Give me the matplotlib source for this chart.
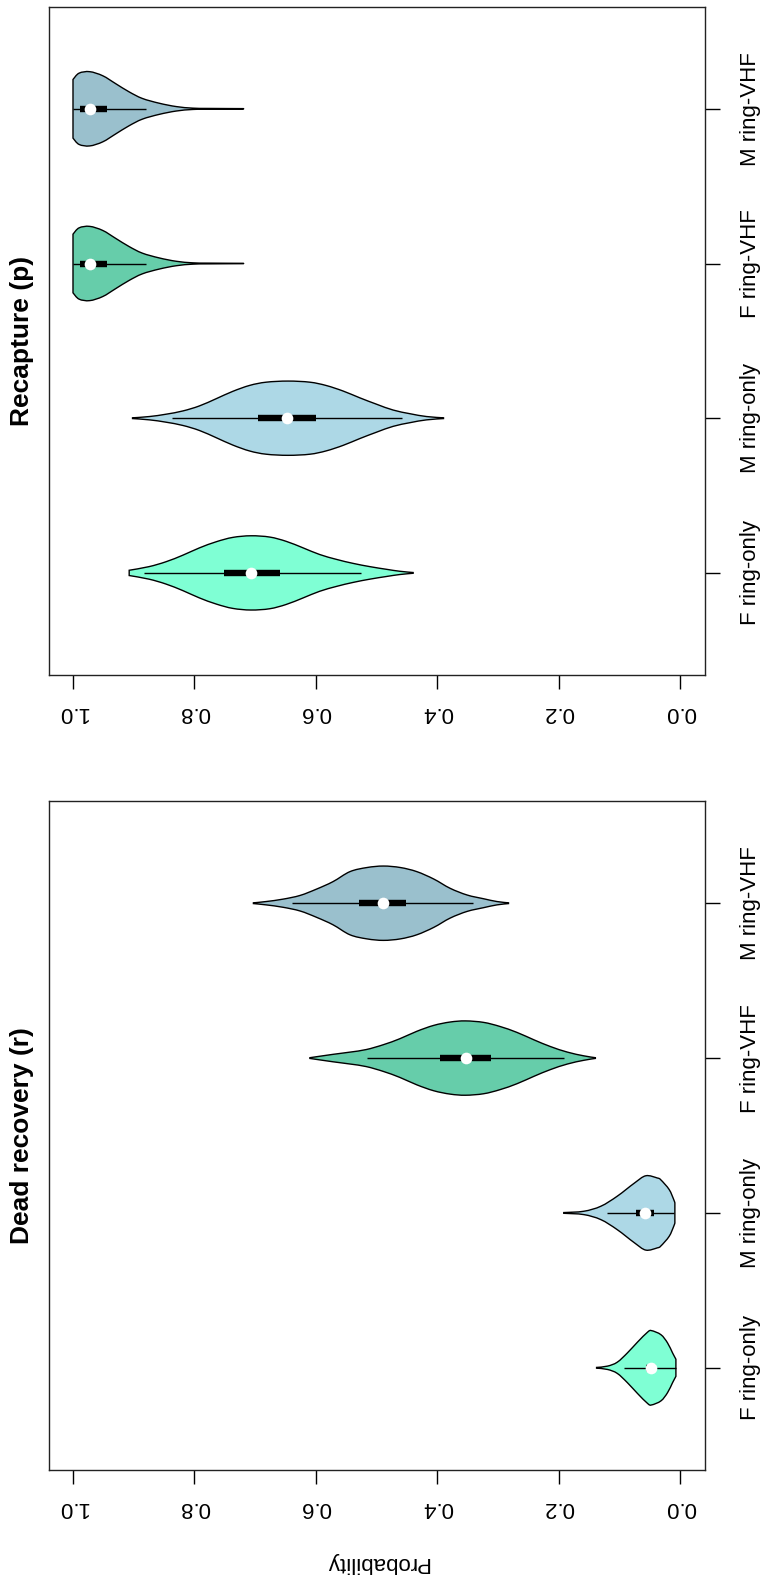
import matplotlib
matplotlib.use("Agg")
import matplotlib.pyplot as plt
from matplotlib.path import Path
from matplotlib.patches import PathPatch
import numpy as np

plt.rcParams['font.family'] = ['Liberation Sans', 'DejaVu Sans']

# ---------------- data ----------------
categories = ["F ring-only", "M ring-only", "F ring-VHF", "M ring-VHF"]
positions = [1, 2, 3, 4]
fill_colors = ["#7FFFD4", "#ADD8E6", "#66CDAA", "#9AC0CD"]
prob_ticks = [0.0, 0.2, 0.4, 0.6, 0.8, 1.0]
prob_ticklabels = ["0.0", "0.2", "0.4", "0.6", "0.8", "1.0"]
panel_titles = ["Recapture (p)", "Dead recovery (r)"]
axis_label = "Probability"

# Recapture (p): violin profiles (probability value, relative density)
p_fring_coords = [0.440, 0.462, 0.484, 0.511, 0.539, 0.566, 0.594, 0.621, 0.649, 0.676,
                  0.707, 0.737, 0.764, 0.792, 0.819, 0.847, 0.875, 0.9075]
p_fring_dens = [0.01, 0.044, 0.097, 0.168, 0.257, 0.363, 0.496, 0.673, 0.85, 0.965,
                1.0, 0.956, 0.84, 0.673, 0.478, 0.30, 0.168, 0.071]
p_mring_coords = [0.390, 0.418, 0.445, 0.473, 0.500, 0.528, 0.555, 0.583, 0.610, 0.646,
                  0.682, 0.709, 0.737, 0.764, 0.792, 0.819, 0.847, 0.874, 0.902]
p_mring_dens = [0.01, 0.045, 0.12, 0.22, 0.375, 0.55, 0.73, 0.88, 0.97, 1.0,
                0.97, 0.884, 0.723, 0.527, 0.33, 0.196, 0.107, 0.045, 0.01]
p_fvhf_coords = [0.719, 0.776, 0.803, 0.830, 0.858, 0.886, 0.908, 0.930, 0.951, 0.9725, 0.990, 1.0]
p_fvhf_dens = [0.005, 0.01, 0.018, 0.06, 0.15, 0.28, 0.46, 0.68, 0.89, 1.0, 0.96, 0.79]
p_mvhf_coords = [0.719, 0.776, 0.803, 0.830, 0.858, 0.886, 0.908, 0.930, 0.951, 0.9725, 0.990, 1.0]
p_mvhf_dens = [0.005, 0.01, 0.018, 0.06, 0.15, 0.28, 0.46, 0.68, 0.89, 1.0, 0.96, 0.79]
p_whisker_lo = [0.526, 0.459, 0.879, 0.879]
p_q1 = [0.659, 0.600, 0.944, 0.944]
p_median = [0.707, 0.647, 0.9725, 0.9725]
p_q3 = [0.751, 0.696, 0.989, 0.989]
p_whisker_hi = [0.883, 0.837, 1.0, 1.0]

# Dead recovery (r)
r_fring_coords = [0.0074, 0.0129, 0.0212, 0.032, 0.0476, 0.054, 0.0707, 0.0873, 0.104, 0.120, 0.138]
r_fring_dens = [0.23, 0.40, 0.67, 0.89, 1.0, 0.96, 0.69, 0.40, 0.15, 0.045, 0.01]
r_mring_coords = [0.0091, 0.0110, 0.0185, 0.0322, 0.038, 0.057, 0.076, 0.104, 0.131, 0.159, 0.192]
r_mring_dens = [0.27, 0.36, 0.63, 0.89, 0.94, 1.0, 0.80, 0.45, 0.18, 0.045, 0.01]
r_fvhf_coords = [0.140, 0.159, 0.186, 0.214, 0.241, 0.269, 0.297, 0.324, 0.354, 0.379,
                 0.406, 0.434, 0.462, 0.489, 0.517, 0.544, 0.572, 0.610]
r_fvhf_dens = [0.01, 0.06, 0.16, 0.31, 0.49, 0.69, 0.85, 0.96, 1.0, 0.97,
               0.88, 0.72, 0.52, 0.36, 0.23, 0.16, 0.10, 0.01]
r_mvhf_coords = [0.283, 0.302, 0.324, 0.351, 0.379, 0.406, 0.434, 0.461, 0.489, 0.516,
                 0.544, 0.572, 0.599, 0.626, 0.654, 0.682, 0.703]
r_mvhf_dens = [0.01, 0.045, 0.12, 0.22, 0.40, 0.65, 0.85, 0.96, 1.0, 0.96,
               0.85, 0.58, 0.38, 0.21, 0.11, 0.045, 0.01]
r_whisker_lo = [0.0074, 0.010, 0.192, 0.341]
r_q1 = [0.040, 0.044, 0.312, 0.452]
r_median = [0.0476, 0.0586, 0.3526, 0.490]
r_q3 = [0.056, 0.0735, 0.3955, 0.529]
r_whisker_hi = [0.0928, 0.121, 0.5166, 0.640]

VIOLIN_WIDTH = 0.48

# ---------------- figure ----------------
W, H = 763, 1583
fig = plt.figure(figsize=(W / 100, H / 100), dpi=100)

left = 48.7 / W
width = (704.7 - 48.7) / W
ax_top = fig.add_axes([left, 1 - 675 / H, width, 668.3 / H])
ax_bot = fig.add_axes([left, 1 - 1470 / H, width, 669 / H])


def smooth_through(points):
    """Bezier (Catmull-Rom) segments passing through the given points."""
    P = np.asarray(points, dtype=float)
    n = len(P)
    verts, codes = [], []
    for i in range(n - 1):
        p_prev = P[i - 1] if i > 0 else P[i]
        p_next2 = P[i + 2] if i + 2 < n else P[i + 1]
        c1 = P[i] + (P[i + 1] - p_prev) / 6.0
        c2 = P[i + 1] - (p_next2 - P[i]) / 6.0
        verts += [c1, c2, P[i + 1]]
        codes += [Path.CURVE4] * 3
    return verts, codes


def violin_path(coords, dens, pos):
    c = np.asarray(coords, dtype=float)
    d = np.asarray(dens, dtype=float)
    hw = 0.5 * VIOLIN_WIDTH * d / d.max()
    upper = np.column_stack([c, pos + hw])
    lower = np.column_stack([c, pos - hw])[::-1]
    verts = [upper[0]]
    codes = [Path.MOVETO]
    v, k = smooth_through(upper)
    verts += v
    codes += k
    verts.append(lower[0])
    codes.append(Path.LINETO)
    v, k = smooth_through(lower)
    verts += v
    codes += k
    verts.append(upper[0])
    codes.append(Path.CLOSEPOLY)
    return Path(np.array(verts), codes)


def draw_panel(ax, coords_list, dens_list, wlo, q1, med, q3, whi, title):
    for c, d, pos, col in zip(coords_list, dens_list, positions, fill_colors):
        patch = PathPatch(violin_path(c, d, pos), facecolor=col, edgecolor='black',
                          linewidth=1.0, zorder=2)
        ax.add_patch(patch)
    ax.hlines(positions, wlo, whi, color='black', lw=1.0, zorder=3)
    ax.hlines(positions, q1, q3, color='black', lw=4.6, zorder=4, capstyle='butt')
    ax.plot(med, positions, 'o', color='white', ms=8.4, mec='none', zorder=5)

    ax.set_xlim(1.04, -0.04)
    ax.set_ylim(0.34, 4.66)
    ax.set_xticks(prob_ticks, prob_ticklabels)
    ax.tick_params(axis='x', length=10.2, width=1.0, pad=9.3, labelsize=16,
                   labelrotation=180, direction='out', color='black')
    ax.yaxis.tick_right()
    ax.set_yticks(positions, categories)
    ax.tick_params(axis='y', left=False, right=True, labelleft=False, labelright=True,
                   length=10.5, width=1.0, pad=14.8, labelsize=16,
                   labelrotation=90, direction='out')
    for lab in ax.get_yticklabels():
        lab.set_va('center')
        lab.set_ha('left')
    for sp in ax.spines.values():
        sp.set_linewidth(1.0)
        sp.set_color('#222222')
    ax.text(-0.040, 0.5, title, transform=ax.transAxes, rotation=90,
            ha='center', va='center', fontsize=19, fontweight='bold')


draw_panel(ax_top,
           [p_fring_coords, p_mring_coords, p_fvhf_coords, p_mvhf_coords],
           [p_fring_dens, p_mring_dens, p_fvhf_dens, p_mvhf_dens],
           p_whisker_lo, p_q1, p_median, p_q3, p_whisker_hi, panel_titles[0])
draw_panel(ax_bot,
           [r_fring_coords, r_mring_coords, r_fvhf_coords, r_mvhf_coords],
           [r_fring_dens, r_mring_dens, r_fvhf_dens, r_mvhf_dens],
           r_whisker_lo, r_q1, r_median, r_q3, r_whisker_hi, panel_titles[1])

fig.text(376.7 / W, 1 - 1562 / H, axis_label, rotation=180, ha='center',
         va='center', fontsize=16)

fig.savefig("out.png", dpi=100)
